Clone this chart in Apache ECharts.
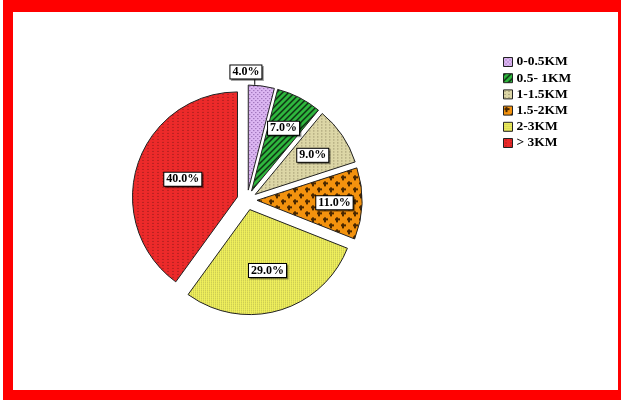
<!DOCTYPE html>
<html><head><meta charset="utf-8">
<script src="https://cdn.jsdelivr.net/npm/echarts@6/dist/echarts.min.js"></script>
<style>html,body{margin:0;padding:0;background:#fff}#c{width:621px;height:400px}</style>
</head><body><div id="c"></div>
<script>
// ---- data ----
const categories = ['0-0.5KM', '0.5- 1KM', '1-1.5KM', '1.5-2KM', '2-3KM', '> 3KM'];
const values = [4, 7, 9, 11, 29, 40];

// ---- styles ----
function pat(w, h, bg, fg, pixels) {
  const c = document.createElement('canvas');
  c.width = w; c.height = h;
  const g = c.getContext('2d');
  g.fillStyle = bg; g.fillRect(0, 0, w, h);
  g.fillStyle = fg;
  pixels(g);
  return { image: c, repeat: 'repeat' };
}
const fills = [
  pat(4, 4, '#dcb6f2', '#7d509c', g => { g.fillRect(0, 0, 1, 1); g.fillRect(2, 2, 1, 1); }),
  pat(6, 6, '#2fb83e', '#0c2a10', g => { for (let x = 0; x < 6; x++) for (let y = 0; y < 6; y++) if ((x + y) % 6 < 2) g.fillRect(x, y, 1, 1); }),
  pat(4, 3, '#dcd6a6', '#857c58', g => { g.fillRect(1, 1, 1, 1); }),
  pat(12, 12, '#f3920e', '#4a2800', g => { [[3, 3], [9, 9]].forEach(([x, y]) => { g.fillRect(x - 2, y - 1, 5, 2); g.fillRect(x - 1, y - 2, 2, 5); }); }),
  pat(2, 2, '#f6f65e', '#a9a94a', g => { g.fillRect(0, 0, 1, 1); }),
  pat(5, 3, '#ec2a2a', '#871818', g => { g.fillRect(2, 1, 1, 1); })
];
// extra radial shift of each label (px), style only
const labelShift = [[-37, -6], 15, 14, 22, 8, 2];

const total = values.reduce((a, b) => a + b, 0);
const midAngles = [];
{ let cum = 0; values.forEach(v => { midAngles.push((cum + v / 2) / total * 2 * Math.PI); cum += v; }); }

const chart = echarts.init(document.getElementById('c'), null, { renderer: 'canvas' });
chart.setOption({
  animation: false,
  graphic: [
    { type: 'rect', z: -10, shape: { x: 3, y: 0, width: 618, height: 400 }, style: { fill: '#ff0000' } },
    { type: 'rect', z: -9, shape: { x: 13, y: 12, width: 605, height: 378 }, style: { fill: '#ffffff' } }
  ],
  legend: {
    orient: 'vertical', left: 503, top: 55, padding: 0,
    itemWidth: 9, itemHeight: 9, itemGap: 2.2,
    icon: 'rect',
    itemStyle: { borderColor: '#222', borderWidth: 1 },
    textStyle: { fontFamily: 'Liberation Serif', fontWeight: 'bold', fontSize: 13.5, color: '#000', lineHeight: 13, padding: [0, 0, 0, -1] },
    data: categories
  },
  series: [{
    type: 'pie',
    center: [247, 200],
    radius: 105,
    startAngle: 90,
    clockwise: true,
    avoidLabelOverlap: false,
    selectedMode: 'multiple',
    selectedOffset: 10,
    select: { itemStyle: { borderColor: '#222', borderWidth: 1 } },
    emphasis: { disabled: true },
    itemStyle: { borderColor: '#222', borderWidth: 1 },
    label: {
      show: true, position: 'inside',
      formatter: p => p.value.toFixed(1) + '%',
      fontFamily: 'Liberation Serif', fontWeight: 'bold', fontSize: 12, color: '#000',
      lineHeight: 12,
      backgroundColor: '#fff', borderColor: '#000', borderWidth: 1, padding: [1, 2, 0, 2],
      shadowColor: 'rgba(0,0,0,0.35)', shadowOffsetX: 1.5, shadowOffsetY: 1.5
    },
    labelLayout: function (p) {
      const i = p.dataIndex;
      const s = labelShift[i];
      if (Array.isArray(s)) {
        const r = p.labelRect;
        const lx = Math.round(r.x + s[0] + r.width * 0.75) + 0.5;
        const ly = r.y + s[1] + r.height;
        return { dx: s[0], dy: s[1], labelLinePoints: [[lx, ly], [lx, ly + 5], [lx, ly + 11]] };
      }
      return { dx: s * Math.sin(midAngles[i]), dy: -s * Math.cos(midAngles[i]) };
    },
    data: values.map((v, i) => {
      const d = { name: categories[i], value: v, selected: true, itemStyle: { color: fills[i] } };
      if (i === 0) {
        d.label = { position: 'outside' };
        d.labelLine = { show: true, length: 8, length2: 0, lineStyle: { color: '#000', width: 1 } };
      }
      return d;
    })
  }]
});
</script>
</body></html>
